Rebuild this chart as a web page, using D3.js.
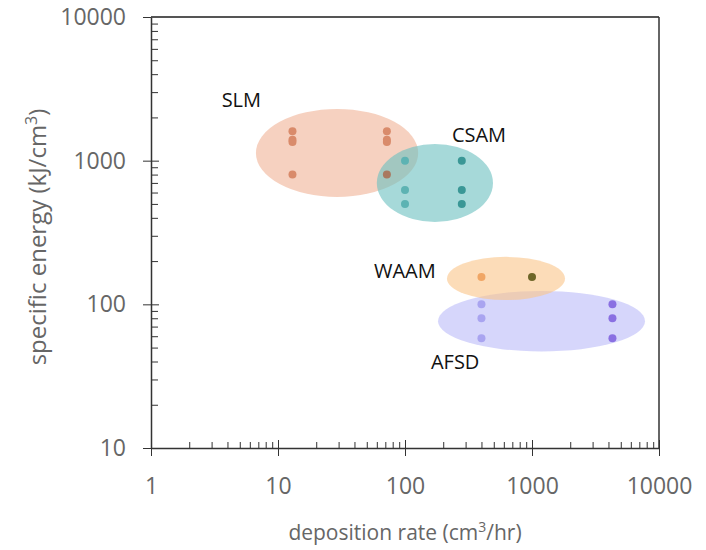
<!DOCTYPE html>
<html>
<head>
<meta charset="utf-8">
<script src="https://cdn.jsdelivr.net/npm/d3@7"></script>
<style>
  body { margin: 0; background: #fff; }
  svg { display: block; }
  .tick text { fill: #666; font-family: "Open Sans", "Noto Sans", sans-serif; font-size: 23px; }
  .axis-title { fill: #666; font-family: "Open Sans", "Noto Sans", sans-serif; font-size: 21px; }
  .group-label { fill: #111; font-family: "Open Sans", "Noto Sans", sans-serif; font-size: 20px; }
</style>
</head>
<body>
<svg id="chart"></svg>
<script>
// ---- data ----
const xTicks = [1, 10, 100, 1000, 10000];
const yTicks = [10, 100, 1000, 10000];

const groups = ["SLM", "CSAM", "WAAM", "AFSD"];

// extents of each shaded region [xmin, xmax, ymin, ymax]
const slmRegion = [6.7, 127, 559, 2290];
const csamRegion = [60, 493, 374, 1306];
const waamRegion = [214, 1820, 107, 214];
const afsdRegion = [182, 7760, 47, 124];

// measured points [deposition rate, specific energy]
const slmPoints = [[13, 1600], [13, 1400], [13, 1350], [13, 800], [72, 1600], [72, 1400], [72, 1350], [72, 800]];
const csamPoints = [[100, 1000], [100, 625], [100, 500], [280, 1000], [280, 625], [280, 500]];
const waamPoints = [[400, 155], [1000, 155]];
const afsdPoints = [[400, 100], [400, 80], [400, 58], [4300, 100], [4300, 80], [4300, 58]];

// label anchor positions (data units)
const labelAt = { SLM: [3.6, 2650], CSAM: [234, 1500], WAAM: [57, 171], AFSD: [160, 40] };

// ---- styles ----
const regionFill = { SLM: "#f0b296", CSAM: "#6bc0c0", WAAM: "#fac589", AFSD: "#bbbbf8" };
const pointFill = {
  SLM: ["#d98b6b", "#d98b6b", "#d98b6b", "#d98b6b", "#d98b6b", "#d98b6b", "#d98b6b", "#a9785f"],
  CSAM: ["#5db3b3", "#5db3b3", "#5db3b3", "#3a9796", "#3a9796", "#3a9796"],
  WAAM: ["#f0a665", "#6e6628"],
  AFSD: ["#a9a4f0", "#a9a4f0", "#a9a4f0", "#8a70e2", "#8a70e2", "#8a70e2"]
};

const regions = { SLM: slmRegion, CSAM: csamRegion, WAAM: waamRegion, AFSD: afsdRegion };
const points = { SLM: slmPoints, CSAM: csamPoints, WAAM: waamPoints, AFSD: afsdPoints };

const width = 706, height = 550;
const margin = { top: 17, right: 47, bottom: 102, left: 151 };

const svg = d3.select("#chart").attr("width", width).attr("height", height);

const x = d3.scaleLog().domain([1, 10000]).range([margin.left, width - margin.right]);
const y = d3.scaleLog().domain([10, 10000]).range([height - margin.bottom, margin.top]);

// minor tick values 2..9 for each decade
function minorTicks(ticks) {
  let out = [];
  for (let i = 0; i < ticks.length - 1; i++) {
    for (let k = 2; k <= 9; k++) out.push(ticks[i] * k);
  }
  return out;
}

// shaded regions
const drawOrder = ["SLM", "CSAM", "AFSD", "WAAM"];
drawOrder.forEach((g) => {
  const r = regions[g];
  const x0 = x(r[0]), x1 = x(r[1]), y0 = y(r[2]), y1 = y(r[3]);
  svg.append("ellipse")
    .attr("cx", (x0 + x1) / 2)
    .attr("cy", (y0 + y1) / 2)
    .attr("rx", Math.abs(x1 - x0) / 2)
    .attr("ry", Math.abs(y0 - y1) / 2)
    .attr("fill", regionFill[g])
    .attr("fill-opacity", 0.6);
});

// points
groups.forEach((g) => {
  svg.append("g")
    .selectAll("circle")
    .data(points[g])
    .join("circle")
    .attr("cx", (d) => x(d[0]))
    .attr("cy", (d) => y(d[1]))
    .attr("r", 4)
    .attr("fill", (d, i) => pointFill[g][i]);
});

// group labels
groups.forEach((g) => {
  svg.append("text")
    .attr("class", "group-label")
    .attr("x", x(labelAt[g][0]))
    .attr("y", y(labelAt[g][1]))
    .attr("dy", "0.35em")
    .text(g);
});

// frame (top and right)
const frame = svg.append("g").attr("fill", "none");
frame.append("line")
  .attr("x1", x(1)).attr("x2", x(10000))
  .attr("y1", y(10000)).attr("y2", y(10000))
  .attr("stroke-width", 2).attr("stroke", "#555");
frame.append("line")
  .attr("x1", x(10000)).attr("x2", x(10000))
  .attr("y1", y(10000)).attr("y2", y(10))
  .attr("stroke-width", 1.5).attr("stroke", "#333");

// x axis
const xAxisY = y(10);
svg.append("g")
  .attr("transform", `translate(0,${xAxisY})`)
  .call(d3.axisBottom(x).tickValues(minorTicks(xTicks)).tickSize(-6).tickFormat(""))
  .call((g) => g.select(".domain").remove());
svg.append("g")
  .attr("transform", `translate(0,${xAxisY})`)
  .call(d3.axisBottom(x).tickValues(xTicks).tickSize(-8).tickFormat(""))
  .call((g) => g.select(".domain").remove());
const xAxis = svg.append("g")
  .attr("transform", `translate(0,${xAxisY})`)
  .call(d3.axisBottom(x).tickValues(xTicks).tickSize(8).tickSizeOuter(0).tickPadding(22)
    .tickFormat(d3.format("d")));
xAxis.select(".domain").attr("stroke", "#333").attr("stroke-width", 1.5);

// y axis
const yAxisX = x(1);
svg.append("g")
  .attr("transform", `translate(${yAxisX},0)`)
  .call(d3.axisLeft(y).tickValues(minorTicks(yTicks)).tickSize(-7).tickFormat(""))
  .call((g) => g.select(".domain").remove());
svg.append("g")
  .attr("transform", `translate(${yAxisX},0)`)
  .call(d3.axisLeft(y).tickValues(yTicks.slice(1, 3)).tickSize(-8).tickFormat(""))
  .call((g) => g.select(".domain").remove());
const yAxis = svg.append("g")
  .attr("transform", `translate(${yAxisX},0)`)
  .call(d3.axisLeft(y).tickValues(yTicks).tickSize(8).tickSizeOuter(0).tickPadding(17)
    .tickFormat(d3.format("d")));
yAxis.select(".domain").attr("stroke", "#333").attr("stroke-width", 1.5);

svg.selectAll(".tick line").attr("stroke", "#333");

// axis titles
const xTitle = svg.append("text")
  .attr("class", "axis-title")
  .attr("x", (x(1) + x(10000)) / 2)
  .attr("y", 540)
  .attr("text-anchor", "middle");
xTitle.append("tspan").text("deposition rate (cm");
xTitle.append("tspan").attr("dy", -8).attr("font-size", 14).text("3");
xTitle.append("tspan").attr("dy", 8).text("/hr)");

const yTitle = svg.append("text")
  .attr("class", "axis-title")
  .attr("font-size", 24)
  .style("font-size", "24px")
  .attr("transform", `translate(46,237) rotate(-90)`)
  .attr("text-anchor", "middle");
yTitle.append("tspan").text("specific energy (kJ/cm");
yTitle.append("tspan").attr("dy", -9).style("font-size", "16px").text("3");
yTitle.append("tspan").attr("dy", 9).text(")");
</script>
</body>
</html>
